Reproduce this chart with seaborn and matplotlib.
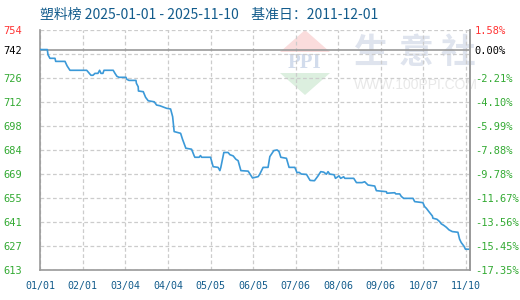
import matplotlib
matplotlib.use("Agg")
import matplotlib.pyplot as plt
from matplotlib.patches import Polygon
import seaborn as sns
import pandas as pd
import numpy as np

# ---- data ----
start_date = "2025-01-01"
end_date = "2025-11-10"
day_offsets = [0, 5.1, 5.6, 7, 10.7, 11.2, 18, 19.5, 21.6, 33.8, 36.9, 38.4, 39.8, 42, 43.2, 44.2, 45.6, 46.4,
               53.1, 54.4, 55.8, 57.3, 62.4, 63.1, 64.6, 69.7, 70, 71.3, 71.5, 75, 76.7, 78.6, 83, 84.7, 87.1,
               89.1, 92, 94.9, 96.4, 97.5, 102.2, 103.6, 106, 110.2, 112.1, 112.6, 115.7, 116.7, 117.5, 124,
               125.9, 129.5, 130.8, 131.5, 133.7, 136.8, 138.1, 140.5, 142.4, 144.1, 146.1, 151.4, 153.9, 154.6,
               158.7, 159.9, 162.3, 165.9, 167.2, 170.1, 172.5, 173.9, 175.2, 179.3, 181.2, 185.4, 187, 188.5,
               190.2, 193.9, 196.5, 199.7, 202.1, 204.3, 206.5, 208.4, 209.6, 210.8, 214, 215, 217.6, 218.8,
               221, 221.8, 228.3, 230.3, 234.4, 236.3, 238.7, 243.6, 244.8, 252.1, 252.5, 258.2, 258.9, 261.8,
               263, 264.7, 271.5, 272.7, 278.7, 279.9, 281.2, 283.1, 285.6, 286, 288.9, 290.9, 292.1, 293.8,
               295.8, 297.7, 300.1, 304.2, 305.4, 306.6, 308.5, 309.7, 312.7]
index_values = [742, 742, 739, 736.9, 736.9, 735.1, 735.1, 732.5, 729.9, 729.9, 727, 727, 728.1, 728.1, 729.9,
                728.1, 728.1, 729.9, 729.9, 728.1, 726.4, 725.8, 725.8, 724.6, 724, 724, 722.3, 720.3, 717.8,
                717.4, 714.1, 712.1, 711.5, 709.6, 709.2, 708.6, 707.7, 707.3, 702.8, 694.1, 693.1, 689.6, 684.4,
                683.8, 679.9, 679.1, 679.1, 680.1, 679.1, 679.1, 673.6, 673.2, 671.3, 673.2, 681.9, 681.9, 680.6,
                679.9, 678, 677.1, 671.3, 671, 667.8, 667, 667.8, 669.3, 673.2, 673.2, 679.5, 683, 683.4, 682.4,
                679.1, 678.5, 673.2, 673.2, 670.1, 670.3, 669.3, 669.1, 665.6, 665.4, 668, 670.7, 670.4, 669.2,
                670.7, 669.3, 668.9, 666.8, 668.2, 666.8, 667.7, 666.8, 666.8, 664.3, 664.3, 664.8, 662.9, 662.3,
                659.6, 659, 658.1, 658.4, 657.7, 657.7, 656.2, 655.1, 655.1, 653.2, 652.6, 650.3, 649.3, 647.3,
                644.8, 643.5, 642.9, 641.5, 640.2, 639.4, 638.2, 636.7, 635.7, 635.3, 631.3, 629.3, 627.3, 625.4,
                625.4]
base_value = 742
tick_dates = ["2025-01-01", "2025-02-01", "2025-03-04", "2025-04-04", "2025-05-05", "2025-06-05",
              "2025-07-06", "2025-08-06", "2025-09-06", "2025-10-07", "2025-11-07"]
tick_labels = ["01/01", "02/01", "03/04", "04/04", "05/05", "06/05", "07/06", "08/06", "09/06", "10/07", "11/10"]
left_labels = ["613", "627", "641", "655", "669", "684", "698", "712", "726", "", "754"]
right_labels = ["-17.35%", "-15.45%", "-13.56%", "-11.67%", "-9.78%", "-7.88%", "-5.99%", "-4.10%",
                "-2.21%", "", "1.58%"]
pct_min, pct_max = -17.35, 1.58
title = "塑料榜 2025-01-01 - 2025-11-10    基准日：2011-12-01"

# ---- build frame ----
t0 = pd.Timestamp(start_date)
df = pd.DataFrame({"date": t0 + pd.to_timedelta(day_offsets, unit="D"), "value": index_values})

sns.set_style("white")
plt.rcParams["font.family"] = ["Noto Sans CJK SC", "DejaVu Sans"]

fig = plt.figure(figsize=(5.2, 3.0), dpi=100)
ax = fig.add_axes([40.3 / 520, 1 - 270 / 300, (470 - 40.3) / 520, (270 - 29.5) / 300])

ymin = base_value * (1 + pct_min / 100)
ymax = base_value * (1 + pct_max / 100)
grid_pos = np.linspace(ymin, ymax, 11)

GREEN = "#33aa33"
RED = "#ff3333"
BLUE_TXT = "#135c8c"
GRID = "#cccccc"
SPINE = "#999999"

# watermark (axes fraction coordinates)
def fx(px):
    return (px - 40.3) / (470 - 40.3)

def fy(py):
    return (270 - py) / (270 - 29.5)

ax.add_patch(Polygon([(fx(280), fy(52)), (fx(305), fy(30)), (fx(330), fy(52))], closed=True,
                     transform=ax.transAxes, facecolor="#fadcdc", edgecolor="none", zorder=0))
ax.add_patch(Polygon([(fx(280), fy(73)), (fx(305), fy(95)), (fx(330), fy(73))], closed=True,
                     transform=ax.transAxes, facecolor="#dcefdf", edgecolor="none", zorder=0))
ax.text(fx(305), fy(63), "PPI", transform=ax.transAxes, ha="center", va="center", fontsize=15,
        color="#d2dcec", family="Liberation Serif", fontweight="bold", zorder=0)
for cx, ch in zip([371, 416.5, 457.5], ["生", "意", "社"]):
    ax.text(fx(cx), fy(52), ch, transform=ax.transAxes, ha="center", va="center", fontsize=25,
            color="#dfe4ee", family="Noto Sans CJK SC", fontweight="bold", zorder=0, clip_on=False)
ax.text(fx(416), fy(85), "WWW.100PPI.COM", transform=ax.transAxes, ha="center", va="center",
        fontsize=10, color="#e8e8e8", family="Liberation Sans", zorder=0, clip_on=False)

sns.lineplot(data=df, x="date", y="value", ax=ax, color="#3b99d8", linewidth=1.2,
             estimator=None, sort=False, zorder=3)

ax.set_xlim(t0, pd.Timestamp(end_date))
ax.set_ylim(ymin, ymax)
ax.set_xlabel("")
ax.set_ylabel("")

ax.set_yticks(grid_pos)
ax.set_yticklabels(left_labels)
ax.set_yticks([base_value], minor=True)
ax.set_yticklabels([str(base_value)], minor=True)
xt = [pd.Timestamp(d) for d in tick_dates]
ax.set_xticks(xt)
ax.set_xticklabels(tick_labels)

ax.grid(True, which="major", linestyle=(0, (3, 2)), color=GRID, linewidth=0.9, zorder=1)
ax.grid(False, which="minor")
ax.axhline(base_value, color=SPINE, linewidth=1.2, zorder=2)

for side in ["left", "bottom", "right"]:
    ax.spines[side].set_color(SPINE)
    ax.spines[side].set_linewidth(1.2)
ax.spines["top"].set_visible(False)

ax.tick_params(axis="y", which="both", length=0, pad=13, labelsize=7.5)
ax.tick_params(axis="x", length=0, pad=8, labelsize=7.2, labelcolor=BLUE_TXT)
for lab in ax.get_yticklabels():
    lab.set_family("DejaVu Sans Mono")
    lab.set_color(GREEN)
ax.get_yticklabels()[-1].set_color(RED)
for lab in ax.get_yticklabels(minor=True):
    lab.set_family("DejaVu Sans Mono")
    lab.set_color("black")
for lab in ax.get_xticklabels():
    lab.set_family("DejaVu Sans Mono")

ax2 = ax.twinx()
ax2.set_ylim(ymin, ymax)
ax2.set_yticks(grid_pos)
ax2.set_yticklabels(right_labels)
ax2.set_yticks([base_value], minor=True)
ax2.set_yticklabels(["0.00%"], minor=True)
ax2.tick_params(axis="y", which="both", length=0, pad=3.5, labelsize=7.5)
for lab in ax2.get_yticklabels():
    lab.set_family("DejaVu Sans Mono")
    lab.set_color(GREEN)
ax2.get_yticklabels()[-1].set_color(RED)
for lab in ax2.get_yticklabels(minor=True):
    lab.set_family("DejaVu Sans Mono")
    lab.set_color("black")
for side in ["left", "top", "bottom"]:
    ax2.spines[side].set_visible(False)
ax2.spines["right"].set_color(SPINE)
ax2.spines["right"].set_linewidth(1.2)
ax2.grid(False)

fig.text(40 / 520, 1 - 15 / 300, title, ha="left", va="center", fontsize=10, color=BLUE_TXT)

fig.savefig("out.png", dpi=100)
